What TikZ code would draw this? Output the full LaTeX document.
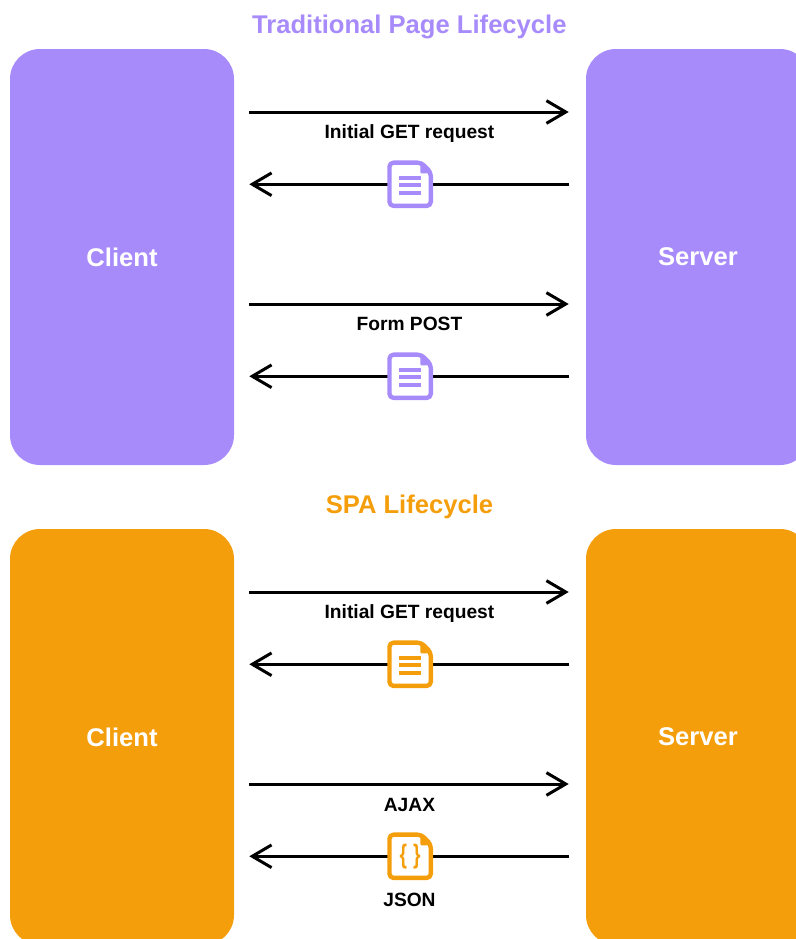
\documentclass[tikz,border=0pt]{standalone}
\usepackage{fontspec}
\usepackage{color}
\setmainfont{Liberation Sans}
\usetikzlibrary{arrows.meta}

\definecolor{pagepurple}{HTML}{A78BFA}
\definecolor{spaorange}{HTML}{F59E0B}

\tikzset{
  lifebox/.style = {rectangle, rounded corners = 22.5pt, minimum width = 168pt, minimum height = 312pt, inner sep = 0pt, text = white, font = \fontsize{19.2}{23}\selectfont\bfseries},
  lifetitle/.style = {inner sep = 0pt, font = \fontsize{19.2}{23}\selectfont\bfseries},
  flowlabel/.style = {inner sep = 0pt, font = \fontsize{14.4}{17}\selectfont\bfseries},
  docnode/.style = {rectangle, fill = white, minimum width = 31.5pt, minimum height = 33pt, inner sep = 0pt, font = \fontsize{20}{24}\selectfont\bfseries},
  flowline/.style = {draw = black, line width = 2.25pt},
  flowarrow/.style = {flowline, -{Straight Barb[length = 14.5pt, width = 17pt, line width = 2.25pt]}},
  docfile/.pic = {
    \draw [pic actions, line width = 3.3pt, line join = round, rounded corners = 3pt, fill = none] (-15.4pt, 16.2pt) -- (8.5pt, 16.2pt) -- (15.6pt, 9pt) -- (15.6pt, -16.2pt) -- (-15.4pt, -16.2pt) -- cycle;
    \draw [pic actions, line width = 1.5pt, line join = round] (8.5pt, 16.2pt) -- (8.5pt, 9pt) -- (15.6pt, 9pt) -- cycle;
  },
  docbars/.pic = {
    \draw [pic actions, line width = 3pt] (-8.25pt, 4.5pt) -- (8.25pt, 4.5pt);
    \draw [pic actions, line width = 3pt] (-8.25pt, -0.9pt) -- (8.25pt, -0.9pt);
    \draw [pic actions, line width = 3pt] (-8.25pt, -6.4pt) -- (8.25pt, -6.4pt);
  }
}

\begin{document}
\begin{tikzpicture}

\useasboundingbox (0pt, 0pt) rectangle (597pt, -704.25pt);
\clip (0pt, 0pt) rectangle (597pt, -704.25pt);

% top half
\node (title1) [lifetitle, text = pagepurple, xshift = 307pt, yshift = -20.5pt] {Traditional Page Lifecycle};
\node (client1) [lifebox, fill = pagepurple, xshift = 91.5pt, yshift = -192.75pt] {Client};
\node (server1) [lifebox, fill = pagepurple, xshift = 523.5pt, yshift = -192.75pt] {\raisebox{-0.5pt}{Server}};

\coordinate (get1) at (0pt, -84pt);
\coordinate (post1) at (0pt, -228pt);
\draw [flowarrow, shorten < = 11.25pt, shorten > = 12.75pt] (client1.east |- get1) -- (server1.west |- get1);
\draw [flowarrow, shorten < = 11.25pt, shorten > = 12.75pt] (client1.east |- post1) -- (server1.west |- post1);
\node (getlabel1) [flowlabel, xshift = 307.1pt, yshift = -100.5pt] {Initial GET request};
\node (postlabel1) [flowlabel, xshift = 307.1pt, yshift = -243pt] {Form POST};

\node (doc1) [docnode, xshift = 307.5pt, yshift = -138.2pt] {};
\node (doc2) [docnode, xshift = 307.5pt, yshift = -282.2pt] {};
\draw [flowline, shorten < = 12.75pt] (server1.west |- doc1) -- (doc1);
\draw [flowarrow, shorten > = 11.25pt] (doc1) -- (client1.east |- doc1);
\draw [flowline, shorten < = 12.75pt] (server1.west |- doc2) -- (doc2);
\draw [flowarrow, shorten > = 11.25pt] (doc2) -- (client1.east |- doc2);
\pic [draw = pagepurple, fill = pagepurple] at (doc1) {docfile};
\pic [draw = pagepurple] at (doc1) {docbars};
\pic [draw = pagepurple, fill = pagepurple] at (doc2) {docfile};
\pic [draw = pagepurple] at (doc2) {docbars};

% bottom half
\node (title2) [lifetitle, text = spaorange, xshift = 307.1pt, yshift = -380.5pt] {SPA Lifecycle};
\node (client2) [lifebox, fill = spaorange, xshift = 91.5pt, yshift = -552.75pt] {Client};
\node (server2) [lifebox, fill = spaorange, xshift = 523.5pt, yshift = -552.75pt] {\raisebox{-0.5pt}{Server}};

\coordinate (get2) at (0pt, -444pt);
\coordinate (ajax2) at (0pt, -588pt);
\draw [flowarrow, shorten < = 11.25pt, shorten > = 12.75pt] (client2.east |- get2) -- (server2.west |- get2);
\draw [flowarrow, shorten < = 11.25pt, shorten > = 12.75pt] (client2.east |- ajax2) -- (server2.west |- ajax2);
\node (getlabel2) [flowlabel, xshift = 307.1pt, yshift = -460.5pt] {Initial GET request};
\node (ajaxlabel2) [flowlabel, xshift = 307.1pt, yshift = -603.75pt] {AJAX};
\node (jsonlabel2) [flowlabel, xshift = 307.1pt, yshift = -675pt] {JSON};

\node (doc3) [docnode, xshift = 307.5pt, yshift = -498.2pt] {};
\node (doc4) [docnode, text = spaorange, xshift = 307.5pt, yshift = -642.2pt] {\scalebox{0.72}[1]{\{}\hspace{4.5pt}\scalebox{0.72}[1]{\}}};
\draw [flowline, shorten < = 12.75pt] (server2.west |- doc3) -- (doc3);
\draw [flowarrow, shorten > = 11.25pt] (doc3) -- (client2.east |- doc3);
\draw [flowline, shorten < = 12.75pt] (server2.west |- doc4) -- (doc4);
\draw [flowarrow, shorten > = 11.25pt] (doc4) -- (client2.east |- doc4);
\pic [draw = spaorange, fill = spaorange] at (doc3) {docfile};
\pic [draw = spaorange] at (doc3) {docbars};
\pic [draw = spaorange, fill = spaorange] at (doc4) {docfile};

\end{tikzpicture}
\end{document}
